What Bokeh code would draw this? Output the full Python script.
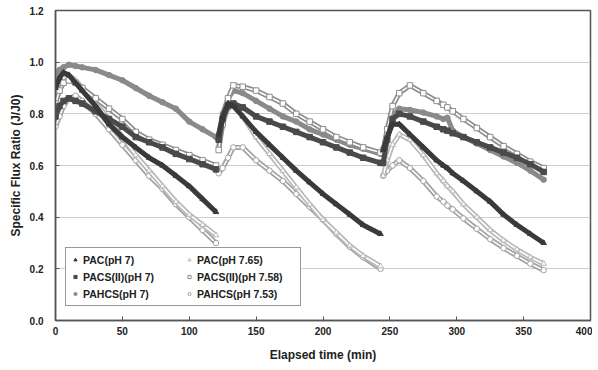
from bokeh.plotting import figure
from bokeh.models import Legend, LegendItem, ColumnDataSource, FixedTicker, PrintfTickFormatter, Range1d
from bokeh.embed import file_html
from bokeh.resources import INLINE

# elapsed time grids (min) for the three filtration cycles
T1 = [0, 3, 6, 10, 15, 20, 30, 40, 50, 60, 70, 80, 90, 100, 110, 120]
T2 = [122, 125, 129, 133, 140, 150, 160, 170, 180, 190, 200, 210, 220, 230, 243]
T3 = [245, 248, 252, 257, 265, 275, 285, 290, 293, 297, 305, 315, 325, 335, 345, 355, 365]

# specific flux ratio J/J0 per series and cycle
PAC7_C1 = [0.90, 0.94, 0.96, 0.95, 0.92, 0.89, 0.83, 0.76, 0.71, 0.67, 0.63, 0.60, 0.56, 0.52, 0.47, 0.42]
PAC7_C2 = [0.72, 0.79, 0.84, 0.83, 0.79, 0.73, 0.68, 0.63, 0.58, 0.535, 0.49, 0.45, 0.41, 0.37, 0.335]
PAC7_C3 = [0.66, 0.71, 0.76, 0.76, 0.72, 0.67, 0.62, 0.60, 0.59, 0.57, 0.54, 0.50, 0.46, 0.41, 0.37, 0.335, 0.30]

PAC765_C1 = [0.87, 0.91, 0.94, 0.95, 0.93, 0.90, 0.84, 0.78, 0.71, 0.64, 0.58, 0.52, 0.46, 0.41, 0.37, 0.33]
PAC765_C2 = [0.68, 0.76, 0.82, 0.84, 0.79, 0.71, 0.645, 0.58, 0.515, 0.45, 0.39, 0.34, 0.29, 0.25, 0.21]
PAC765_C3 = [0.56, 0.62, 0.68, 0.72, 0.70, 0.64, 0.57, 0.54, 0.52, 0.50, 0.45, 0.40, 0.35, 0.31, 0.275, 0.245, 0.22]

PACS7_C1 = [0.79, 0.83, 0.85, 0.86, 0.85, 0.84, 0.81, 0.78, 0.75, 0.71, 0.69, 0.67, 0.645, 0.625, 0.605, 0.585]
PACS7_C2 = [0.70, 0.78, 0.83, 0.84, 0.825, 0.79, 0.77, 0.75, 0.73, 0.71, 0.69, 0.67, 0.65, 0.63, 0.61]
PACS7_C3 = [0.61, 0.70, 0.78, 0.80, 0.79, 0.77, 0.75, 0.74, 0.735, 0.725, 0.71, 0.69, 0.67, 0.65, 0.63, 0.605, 0.575]

PACS758_C1 = [0.84, 0.89, 0.92, 0.93, 0.92, 0.90, 0.86, 0.82, 0.78, 0.73, 0.70, 0.68, 0.66, 0.64, 0.62, 0.60]
PACS758_C2 = [0.66, 0.76, 0.86, 0.91, 0.905, 0.89, 0.865, 0.84, 0.80, 0.77, 0.74, 0.71, 0.69, 0.67, 0.65]
PACS758_C3 = [0.66, 0.74, 0.83, 0.88, 0.91, 0.88, 0.85, 0.835, 0.825, 0.81, 0.78, 0.745, 0.71, 0.675, 0.645, 0.615, 0.59]

PAHCS7_C1 = [0.95, 0.97, 0.98, 0.99, 0.985, 0.98, 0.97, 0.95, 0.93, 0.90, 0.87, 0.845, 0.82, 0.77, 0.74, 0.71]
PAHCS7_C2 = [0.72, 0.80, 0.86, 0.89, 0.88, 0.85, 0.82, 0.79, 0.77, 0.74, 0.72, 0.70, 0.68, 0.665, 0.645]
PAHCS7_C3 = [0.66, 0.72, 0.79, 0.82, 0.815, 0.805, 0.79, 0.78, 0.785, 0.735, 0.71, 0.685, 0.66, 0.635, 0.61, 0.58, 0.545]

PAHCS753_C1 = [0.75, 0.79, 0.83, 0.86, 0.87, 0.85, 0.80, 0.74, 0.68, 0.62, 0.56, 0.51, 0.45, 0.40, 0.35, 0.30]
PAHCS753_C2 = [0.57, 0.59, 0.63, 0.67, 0.67, 0.62, 0.58, 0.54, 0.49, 0.44, 0.39, 0.335, 0.285, 0.245, 0.20]
PAHCS753_C3 = [0.56, 0.58, 0.60, 0.62, 0.59, 0.54, 0.48, 0.46, 0.445, 0.43, 0.395, 0.355, 0.315, 0.28, 0.25, 0.22, 0.195]

# legend order (column-major: left column first)
LABELS = ["PAC(pH 7)", "PACS(II)(pH 7)", "PAHCS(pH 7)", "PAC(pH 7.65)", "PACS(II)(pH 7.58)", "PAHCS(pH 7.53)"]

NAN = float("nan")


def joined(c1, c2, c3):
    xs = T1 + [NAN] + T2 + [NAN] + T3
    ys = c1 + [NAN] + c2 + [NAN] + c3
    return xs, ys


p = figure(width=592, height=364, x_range=Range1d(0, 400), y_range=Range1d(0, 1.2),
           output_backend="svg", toolbar_location=None,
           min_border_left=55, min_border_right=2, min_border_top=10, min_border_bottom=43)

FONT = "Liberation Sans"

styles = {
    "PAHCS(pH 7.53)": (PAHCS753_C1, PAHCS753_C2, PAHCS753_C3, "circle", "#a2a2a2", "white", True),
    "PAC(pH 7.65)": (PAC765_C1, PAC765_C2, PAC765_C3, "triangle", "#b8b8b8", "white", True),
    "PAHCS(pH 7)": (PAHCS7_C1, PAHCS7_C2, PAHCS7_C3, "circle", "#8a8a8a", "#8a8a8a", False),
    "PACS(II)(pH 7.58)": (PACS758_C1, PACS758_C2, PACS758_C3, "square", "#8e8e8e", "white", True),
    "PACS(II)(pH 7)": (PACS7_C1, PACS7_C2, PACS7_C3, "square", "#4a4a4a", "#4a4a4a", False),
    "PAC(pH 7)": (PAC7_C1, PAC7_C2, PAC7_C3, "triangle", "#3a3a3a", "#3a3a3a", False),
}

renderers = {}
for name, (c1, c2, c3, marker, lc, fc, hollow) in styles.items():
    xs, ys = joined(c1, c2, c3)
    src = ColumnDataSource(dict(x=xs, y=ys))
    p.line("x", "y", source=src, line_color=lc, line_width=5)
    if hollow:
        p.line("x", "y", source=src, line_color="white", line_width=1.6)
    r = p.scatter("x", "y", source=src, marker=marker, size=5.5,
                  line_color=lc, fill_color=fc, line_width=1)
    renderers[name] = r

p.xgrid.visible = False
p.ygrid.grid_line_color = "#9a9a9a"
p.ygrid.grid_line_dash = "1 1"
p.ygrid.grid_line_width = 1

p.xaxis.ticker = FixedTicker(ticks=[0, 50, 100, 150, 200, 250, 300, 350, 400])
p.yaxis.ticker = FixedTicker(ticks=[0.0, 0.2, 0.4, 0.6, 0.8, 1.0, 1.2])
p.yaxis.formatter = PrintfTickFormatter(format="%.1f")

for ax in (p.xaxis[0], p.yaxis[0]):
    ax.major_tick_in = 4
    ax.major_tick_out = 0
    ax.minor_tick_in = 0
    ax.minor_tick_out = 0
    ax.axis_line_color = "#555555"
    ax.axis_line_width = 1.5
    ax.major_tick_line_color = "#555555"
    ax.major_label_text_font = FONT
    ax.major_label_text_font_style = "bold"
    ax.major_label_text_font_size = "10px"
    ax.major_label_text_color = "#222222"
    ax.axis_label_text_font = FONT
    ax.axis_label_text_font_style = "bold"
    ax.axis_label_text_font_size = "12px"
    ax.axis_label_text_color = "#222222"

p.xaxis.axis_label = "Elapsed time (min)"
p.yaxis.axis_label = "Specific Flux Ratio (J/J0)"
p.xaxis.major_label_standoff = 6
p.xaxis.axis_label_standoff = 10
p.yaxis.major_label_standoff = 12
p.yaxis.axis_label_standoff = 4

p.outline_line_color = "#555555"
p.outline_line_width = 1.5

items = [LegendItem(label=lab, renderers=[renderers[lab]]) for lab in LABELS]
legend = Legend(items=items, location=(10, 14), ncols=2,
                label_text_font=FONT, label_text_font_style="bold", label_text_font_size="10.5px",
                label_text_color="#222222", glyph_width=8, glyph_height=13, label_height=13,
                label_width=98, label_standoff=4, spacing=4, padding=5, margin=0,
                border_line_color="#333333", border_line_width=1.5,
                background_fill_color="white", background_fill_alpha=1)
p.add_layout(legend, "center")

open("out.html", "w").write(file_html(p, INLINE))
